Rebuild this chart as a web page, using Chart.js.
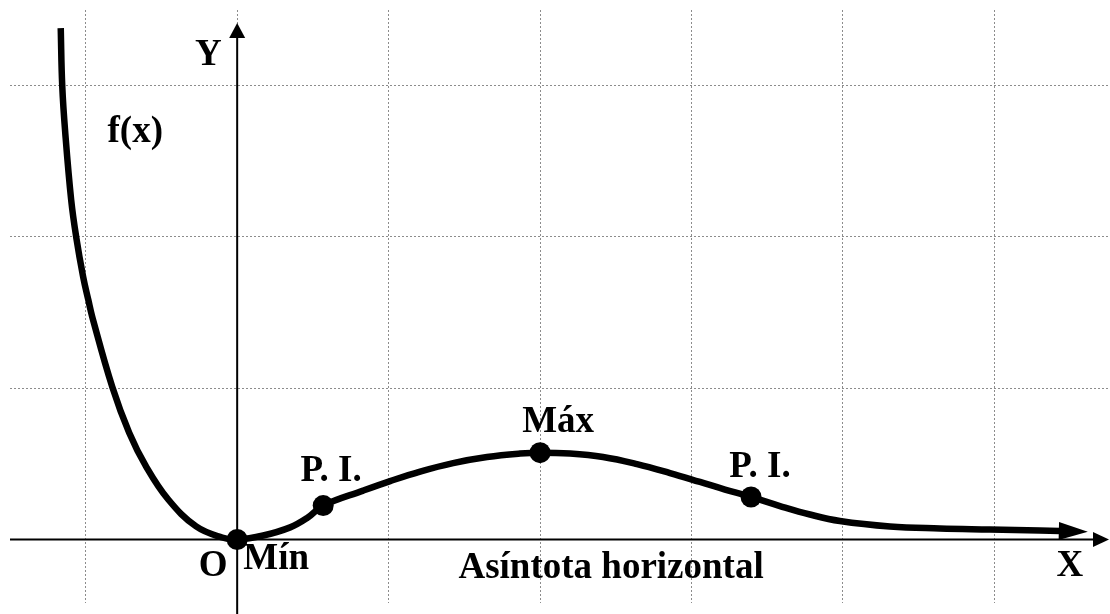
<!DOCTYPE html>
<html>
<head>
<meta charset="utf-8">
<script src="https://cdn.jsdelivr.net/npm/chart.js@4.4.1/dist/chart.umd.min.js"></script>
<style>
  html, body { margin: 0; padding: 0; background: #fff; overflow: hidden; }
  canvas { display: block; }
</style>
</head>
<body>
<canvas id="graf" width="1110" height="614"></canvas>
<script>
// --- Datos ---
const curvaX = [-1.165, -1.155, -1.135, -1.096, -1.063, -1.017, -0.983, -0.957, -0.825, -0.713, -0.601,
                -0.455, -0.271, -0.099, 0, 0.172, 0.350, 0.462, 0.568, 0.832, 1.010,
                1.208, 1.426, 1.650, 1.868, 2.0, 2.198, 2.416, 2.640, 2.858, 3.056,
                3.221, 3.393, 3.584, 3.782, 3.980, 4.310, 4.640, 4.970, 5.300, 5.432];
const curvaY = [3.380, 2.997, 2.686, 2.244, 2.000, 1.736, 1.584, 1.472, 1.010, 0.706, 0.482,
                0.264, 0.086, 0.013, 0, 0.026, 0.080, 0.142, 0.224, 0.323, 0.386,
                0.449, 0.505, 0.545, 0.568, 0.574, 0.568, 0.545, 0.498, 0.439, 0.380,
                0.330, 0.281, 0.221, 0.165, 0.122, 0.086, 0.073, 0.066, 0.059, 0.056];

// puntos notables: mínimo, P.I., máximo, P.I.
const puntosX = [0, 0.568, 2.0, 3.393];
const puntosY = [0, 0.224, 0.574, 0.281];

// rejilla
const ticksX = [-1, 0, 1, 2, 3, 4, 5];
const ticksY = [1, 2, 3];

// etiquetas (centro horizontal, línea base)
const etiquetas = ['Y', 'f(x)', 'O', 'Mín', 'P. I.', 'Máx', 'P. I.', 'Asíntota horizontal', 'X'];
const etiqX = [-0.191, -0.673, -0.158, 0.257, 0.620, 2.119, 3.452, 2.469, 5.498];
const etiqY = [3.135, 2.627, -0.244, -0.198, 0.389, 0.713, 0.416, -0.257, -0.244];

function flecha(ctx, tx, ty, dx, dy, largo, ancho) {
    const n = Math.hypot(dx, dy);
    const ux = dx / n, uy = dy / n;
    const bx = tx - ux * largo, by = ty - uy * largo;
    ctx.beginPath();
    ctx.moveTo(tx, ty);
    ctx.lineTo(bx - uy * ancho, by + ux * ancho);
    ctx.lineTo(bx + uy * ancho, by - ux * ancho);
    ctx.closePath();
    ctx.fill();
}

// --- Ejes con flechas ---
const ejes = {
    id: 'ejes',
    beforeDatasetsDraw(chart) {
        const { ctx, chartArea, scales: { x, y } } = chart;
        const x0 = x.getPixelForValue(0), y0 = y.getPixelForValue(0);
        const topY = chartArea.top + 13, rightX = chartArea.right + 1;
        ctx.save();
        ctx.strokeStyle = '#000';
        ctx.fillStyle = '#000';
        ctx.lineWidth = 2;
        ctx.beginPath();
        ctx.moveTo(chartArea.left, y0);
        ctx.lineTo(rightX - 10, y0);
        ctx.moveTo(x0, chart.height);
        ctx.lineTo(x0, topY + 10);
        ctx.stroke();
        flecha(ctx, rightX, y0, 1, 0, 16, 7.5);
        flecha(ctx, x0, topY, 0, -1, 15, 8);
        ctx.restore();
    },
    afterDatasetsDraw(chart) {
        const { ctx, scales: { x, y } } = chart;
        const n = curvaX.length;
        const ax = x.getPixelForValue(curvaX[n - 1]), ay = y.getPixelForValue(curvaY[n - 1]);
        const bx = x.getPixelForValue(curvaX[n - 2]), by = y.getPixelForValue(curvaY[n - 2]);
        const dx = ax - bx, dy = ay - by, d = Math.hypot(dx, dy);
        ctx.save();
        ctx.fillStyle = '#000';
        flecha(ctx, ax + dx / d * 28, ay + dy / d * 28, dx, dy, 29, 9);
        ctx.restore();
    },
    afterDraw(chart) {
        const { ctx, scales: { x, y } } = chart;
        ctx.save();
        ctx.fillStyle = '#000';
        ctx.font = 'bold 37px "Liberation Serif", "Times New Roman", serif';
        ctx.textAlign = 'center';
        ctx.textBaseline = 'alphabetic';
        etiquetas.forEach((t, i) => {
            ctx.fillText(t, x.getPixelForValue(etiqX[i]), y.getPixelForValue(etiqY[i]));
        });
        ctx.restore();
    }
};

const ctx = document.getElementById('graf').getContext('2d');
new Chart(ctx, {
    type: 'scatter',
    data: {
        datasets: [
            {
                data: puntosX.map((v, i) => ({ x: v, y: puntosY[i] })),
                showLine: false,
                pointRadius: 10.5,
                pointBackgroundColor: '#000',
                pointBorderWidth: 0,
                order: 0
            },
            {
                data: curvaX.map((v, i) => ({ x: v, y: curvaY[i] })),
                showLine: true,
                borderColor: '#000',
                borderWidth: 6.5,
                borderCapStyle: 'butt',
                borderJoinStyle: 'round',
                pointRadius: 0,
                tension: 0.4,
                clip: false,
                order: 1
            }
        ]
    },
    options: {
        responsive: false,
        devicePixelRatio: 1,
        animation: false,
        layout: { autoPadding: false, padding: { left: 10, right: 2, top: 10, bottom: 11 } },
        plugins: { legend: { display: false }, tooltip: { enabled: false } },
        scales: {
            x: {
                type: 'linear', min: -1.5, max: 5.75,
                afterBuildTicks: s => { s.ticks = ticksX.map(v => ({ value: v })); },
                ticks: { display: false },
                grid: { color: '#8c8c8c', lineWidth: 1, drawTicks: false },
                border: { display: false, dash: [2, 2] }
            },
            y: {
                type: 'linear', min: -0.42, max: 3.5,
                afterBuildTicks: s => { s.ticks = ticksY.map(v => ({ value: v })); },
                ticks: { display: false },
                grid: { color: '#8c8c8c', lineWidth: 1, drawTicks: false },
                border: { display: false, dash: [2, 2] }
            }
        }
    },
    plugins: [ejes]
});
</script>
</body>
</html>
